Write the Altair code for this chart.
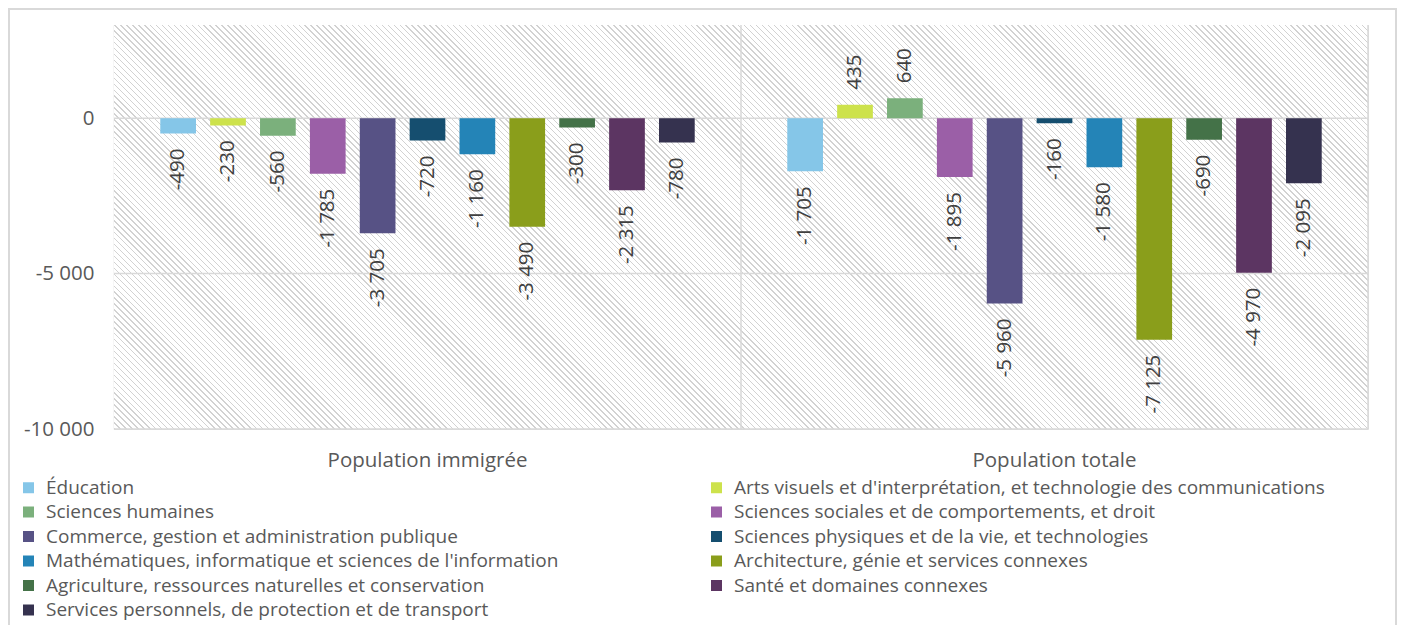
import math
import altair as alt
import pandas as pd

# ---------------- data ----------------
groups = ["Population immigrée", "Population totale"]
categories = [
    "Éducation",
    "Arts visuels et d'interprétation, et technologie des communications",
    "Sciences humaines",
    "Sciences sociales et de comportements, et droit",
    "Commerce, gestion et administration publique",
    "Sciences physiques et de la vie, et technologies",
    "Mathématiques, informatique et sciences de l'information",
    "Architecture, génie et services connexes",
    "Agriculture, ressources naturelles et conservation",
    "Santé et domaines connexes",
    "Services personnels, de protection et de transport",
]
colors = ["#85C6E8", "#CDE24C", "#7BB07C", "#9B5FA7", "#575285", "#154E6F",
          "#2484B7", "#8A9E1B", "#447248", "#5C3562", "#35324F"]
immigree = [-490, -230, -560, -1785, -3705, -720, -1160, -3490, -300, -2315, -780]
totale = [-1705, 435, 640, -1895, -5960, -160, -1580, -7125, -690, -4970, -2095]
y_ticks = [-10000, -5000, 0]
y_domain = [-10000, 3000]

rows = []
for g, vals in zip(groups, [immigree, totale]):
    for c, v in zip(categories, vals):
        rows.append({"group": g, "category": c, "value": v})
df = pd.DataFrame(rows)

# ---------------- style ----------------
FONT = "Open Sans"
FS = 20.5
LFS = 19
W, H = 1254, 404
GRAY = "#d9d9d9"

# hatched plot background built as a striped linear gradient (45° "\" stripes)
r = H / W
k = (1 + r) / (1 + r * r)
extent = (W + H) / math.sqrt(2)
period, lw = 4.2, 1.0
stripe = "#d2d2d2"
stops = []
i = 0
while (i * period + lw) / extent <= 1.0:
    a = i * period / extent
    b = (i * period + lw) / extent
    stops += [{"offset": a, "color": "#ffffff"}, {"offset": a, "color": stripe},
              {"offset": b, "color": stripe}, {"offset": b, "color": "#ffffff"}]
    i += 1
gradient = {"gradient": "linear", "x1": 0, "y1": 1, "x2": k, "y2": 1 - k * r, "stops": stops}

num_expr = "(datum.value < 0 ? '-' : '') + replace(format(abs(datum.value), ','), ',', ' ')"

x_axis = alt.Axis(title=None, labelFontSize=FS, labelColor="#595959", labelFont=FONT,
                  labelPadding=21, ticks=False, domain=False, grid=False, labelAngle=0,
                  labelLimit=500)
x_scale = alt.Scale(paddingInner=0, paddingOuter=0)
x_enc = alt.X("group:N", sort=groups, scale=x_scale, axis=x_axis)
y_scale = alt.Scale(domain=y_domain, nice=False, zero=False)
y_axis = alt.Axis(title=None, values=y_ticks, labelExpr=num_expr, labelFontSize=FS,
                  labelColor="#595959", labelFont=FONT, labelPadding=20, ticks=False,
                  grid=False, domain=True, domainColor=GRAY, domainWidth=1.5)

one = pd.DataFrame({"d": [0]})

# outer chart-area frame
frame = alt.Chart(one).mark_rect(fill=None, stroke=GRAY, strokeWidth=2).encode(
    x=alt.value(-105), x2=alt.value(W + 28), y=alt.value(-16), y2=alt.value(H + 300))

bg = alt.Chart(one).mark_rect(fill=gradient, strokeWidth=0).encode(
    x=alt.value(0), x2=alt.value("width"), y=alt.value(0), y2=alt.value("height"))

grid = alt.Chart(pd.DataFrame({"value": y_ticks})).mark_rule(color=GRAY, strokeWidth=1.5).encode(
    y=alt.Y("value:Q", scale=y_scale, axis=y_axis))

seps = alt.Chart(pd.DataFrame({"group": groups})).mark_rule(color=GRAY, strokeWidth=1.5).encode(
    x=alt.X("group:N", sort=groups, bandPosition=1, scale=x_scale, axis=x_axis))

base = alt.Chart(df).encode(
    x=x_enc,
    xOffset=alt.XOffset("category:N", sort=categories,
                        scale=alt.Scale(paddingInner=0.284, paddingOuter=0.928)),
    y=alt.Y("value:Q", scale=y_scale, axis=y_axis),
)

bars = base.mark_bar().encode(
    color=alt.Color("category:N", sort=categories,
                    scale=alt.Scale(domain=categories, range=colors),
                    legend=alt.Legend(orient="none", legendX=-95, legendY=453, columns=2,
                                      direction="horizontal",
                                      columnPadding=148, title=None, symbolType="square",
                                      symbolSize=121, symbolStrokeWidth=0, labelFontSize=LFS,
                                      labelColor="#595959", labelFont=FONT, rowPadding=4.5,
                                      labelLimit=1000, labelOffset=8))
)

neg_text = base.transform_filter("datum.value < 0").transform_calculate(
    label=num_expr).mark_text(angle=270, align="right", baseline="middle", dx=-15,
                              fontSize=FS, font=FONT, color="#404040").encode(text="label:N")
pos_text = base.transform_filter("datum.value >= 0").transform_calculate(
    label=num_expr).mark_text(angle=270, align="left", baseline="middle", dx=15,
                              fontSize=FS, font=FONT, color="#404040").encode(text="label:N")

chart = alt.layer(frame, bg, grid, seps, bars, neg_text, pos_text).properties(
    width=W, height=H,
    autosize=alt.AutoSizeParams(type="none"),
    padding={"left": 106, "top": 17, "right": 30, "bottom": 196},
).configure_view(stroke=None).configure(background="#ffffff")

chart.save("out.html", embed_options={"renderer": "svg", "actions": False})
